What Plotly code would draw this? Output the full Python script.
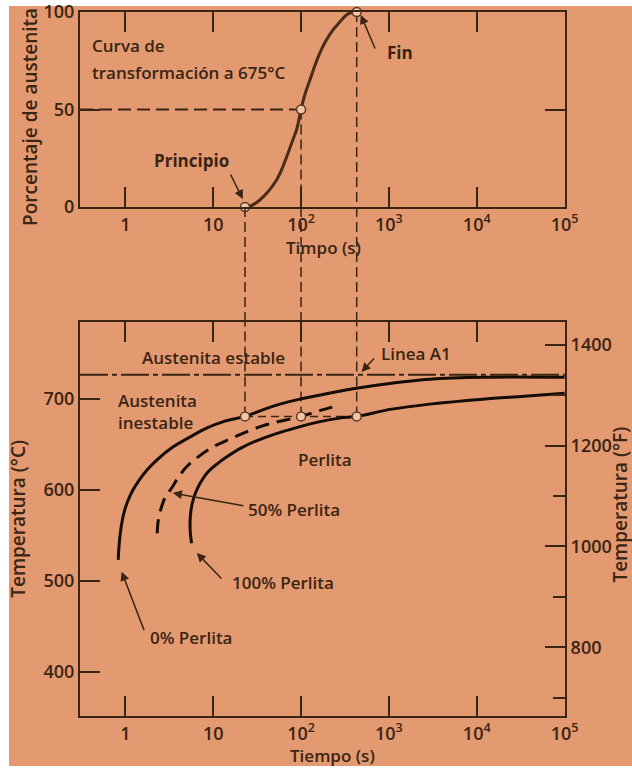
import numpy as np
import plotly.graph_objects as go

# ---------------- data ----------------
# Top chart: transformation curve at 675 °C (time s, % austenite transformed)
curve_time = [23, 27.5, 33.9, 41.8, 52.6, 61.9, 71.1, 80.5, 88.7, 100, 110, 126, 143,
              163, 191, 231, 276, 328, 377, 430]
curve_pct = [0, 0.8, 3.6, 7.7, 13.8, 20.5, 27.7, 34.4, 39.5, 50, 57.4, 65.1, 72.3,
             78.8, 85.1, 90.8, 94.9, 98.5, 99.7, 100]
key_time = [23, 100, 430]          # Principio, 50 %, Fin
key_pct = [0, 50, 100]
iso_temp = 681                     # isotherm drawn in the TTT diagram

# Bottom chart: TTT curves (time s, temperature °C)
start_time = [0.828, 0.848, 0.884, 0.949, 1.054, 1.217, 1.462, 1.803, 2.34, 3.47, 5.42,
              8.39, 13.6, 23, 38.6, 60.3, 96.7, 196, 427, 1076, 2911, 11670, 100000]
start_temp = [522.9, 539.4, 555.9, 572.4, 586.7, 599.9, 612, 623, 634, 647.2, 658.2,
              668.1, 675.8, 681, 689, 695, 700, 706, 712.1, 717.6, 722, 724.2, 724.2]
half_time = [2.30, 2.37, 2.58, 2.85, 3.36, 3.96, 4.97, 6.68, 9.97, 15.4, 23.9, 35.7,
             52.5, 74.4, 100, 163, 275]
half_temp = [552.3, 566.9, 581.5, 592.2, 602.1, 613.1, 625.5, 636.2, 647.5, 656, 664,
             670.3, 674.7, 678, 681, 687.3, 693.4]
finish_time = [5.66, 5.46, 5.49, 5.78, 6.34, 7.22, 8.68, 11.0, 14.7, 20.6, 30.5, 50.2,
               84.9, 155, 275, 430, 1076, 2911, 11670, 35080, 100000]
finish_temp = [541.3, 555.9, 571.3, 585.6, 597.7, 608.7, 619.7, 628.5, 637.3, 646.1,
               653.8, 661.5, 668.1, 674.7, 679.1, 681, 689, 694.5, 700, 703.3, 706.6]
a1_temp = 727

x_tickvals = [1, 10, 100, 1000, 10000, 100000]
x_ticktext = ["1", "10", "10<sup>2</sup>", "10<sup>3</sup>", "10<sup>4</sup>", "10<sup>5</sup>"]
pct_ticks = [0, 50, 100]
c_ticks = [400, 500, 600, 700]
f_ticks = [800, 1000, 1200, 1400]
f_minor = [700, 900, 1100, 1300]

# ---------------- style ----------------
ORANGE = "#E39A70"
INK = "#3a2414"
LINE = "#160c06"
BROWN = "#4a2a18"
FONT = "Open Sans"
x_range = [-0.517, 5.005]
pct_range = [0, 100]
c_range = [351, 785]
f_range = [c * 9 / 5 + 32 for c in c_range]

# plot box: l=80, r=67, t=12, b=52 -> plot height 704
top_dom = [0.723, 1.0]
bot_dom = [0.0, 0.5597]
SMOOTH = 1.0

fig = go.Figure()

# ---- top chart ----
fig.add_trace(go.Scatter(x=[10 ** x_range[0], key_time[1]], y=[key_pct[1]] * 2,
                         mode="lines", line=dict(color=INK, width=2, dash="13px,6px"),
                         xaxis="x", yaxis="y"))
vx, vy = [], []
for t, p in zip(key_time, key_pct):
    vx += [t, t, None]
    vy += [p, 0, None]
fig.add_trace(go.Scatter(x=vx, y=vy, mode="lines",
                         line=dict(color=INK, width=1.5, dash="10px,5px"),
                         xaxis="x", yaxis="y"))
fig.add_trace(go.Scatter(x=curve_time, y=curve_pct, mode="lines", cliponaxis=False,
                         line=dict(color=BROWN, width=3, shape="spline", smoothing=SMOOTH),
                         xaxis="x", yaxis="y"))
fig.add_trace(go.Scatter(x=key_time, y=key_pct, mode="markers", cliponaxis=False,
                         marker=dict(size=9, color="#F2C4A3", line=dict(color="#5a3a25", width=1.5)),
                         xaxis="x", yaxis="y"))

# ---- gap connectors ----
gx, gy = [], []
for t in key_time:
    gx += [t, t, None]
    gy += [0, 1, None]
fig.add_trace(go.Scatter(x=gx, y=gy, mode="lines",
                         line=dict(color=INK, width=1.5, dash="10px,5px"),
                         xaxis="x3", yaxis="y4"))

# ---- bottom chart ----
bx, by = [], []
for t in key_time:
    bx += [t, t, None]
    by += [iso_temp, c_range[1], None]
fig.add_trace(go.Scatter(x=bx, y=by, mode="lines",
                         line=dict(color=INK, width=1.5, dash="10px,5px"),
                         xaxis="x2", yaxis="y2"))
fig.add_trace(go.Scatter(x=[key_time[0], key_time[2]], y=[iso_temp] * 2, mode="lines",
                         line=dict(color=INK, width=1.5, dash="8px,5px"),
                         xaxis="x2", yaxis="y2"))
fig.add_trace(go.Scatter(x=start_time, y=start_temp, mode="lines",
                         line=dict(color=LINE, width=3, shape="spline", smoothing=SMOOTH),
                         xaxis="x2", yaxis="y2"))
fig.add_trace(go.Scatter(x=half_time, y=half_temp, mode="lines",
                         line=dict(color=LINE, width=3, dash="14px,8px", shape="spline", smoothing=SMOOTH),
                         xaxis="x2", yaxis="y2"))
fig.add_trace(go.Scatter(x=finish_time, y=finish_temp, mode="lines",
                         line=dict(color=LINE, width=3, shape="spline", smoothing=SMOOTH),
                         xaxis="x2", yaxis="y2"))
fig.add_trace(go.Scatter(x=key_time, y=[iso_temp] * 3, mode="markers", cliponaxis=False,
                         marker=dict(size=9, color="#F2C4A3", line=dict(color="#5a3a25", width=1.5)),
                         xaxis="x2", yaxis="y2"))
# invisible trace to activate the °F axis
fig.add_trace(go.Scatter(x=[1], y=[f_ticks[0]], mode="markers", marker=dict(opacity=0),
                         xaxis="x2", yaxis="y3", hoverinfo="skip"))

# ---------------- axes ----------------
tick_font = dict(family=FONT, size=18, color=INK, weight=600)
common_x = dict(type="log", range=x_range, tickvals=x_tickvals, ticktext=x_ticktext,
                ticks="inside", ticklen=20, tickwidth=2, tickcolor=INK,
                showline=True, linewidth=2, linecolor=INK, mirror="ticks",
                showgrid=False, zeroline=False, tickfont=tick_font, automargin=False,
                ticklabeloverflow="allow")

fig.update_layout(
    xaxis=dict(**common_x, anchor="y", domain=[0, 1]),
    yaxis=dict(range=pct_range, domain=top_dom, anchor="x", tickvals=pct_ticks,
               ticks="inside", ticklen=20, tickwidth=2, tickcolor=INK,
               showline=True, linewidth=2, linecolor=INK, mirror="ticks",
               showgrid=False, zeroline=False, tickfont=tick_font, automargin=False,
               ticklabeloverflow="allow"),
    xaxis2=dict(**common_x, anchor="y2", domain=[0, 1]),
    yaxis2=dict(range=c_range, domain=bot_dom, anchor="x2", tickvals=c_ticks,
                ticks="inside", ticklen=20, tickwidth=2, tickcolor=INK,
                showline=True, linewidth=2, linecolor=INK, mirror=False,
                showgrid=False, zeroline=False, tickfont=tick_font, automargin=False,
                ticklabeloverflow="allow"),
    yaxis3=dict(range=f_range, overlaying="y2", side="right", anchor="x2",
                tickvals=f_ticks, ticks="inside", ticklen=20, tickwidth=2, tickcolor=INK,
                minor=dict(tickvals=f_minor, ticks="inside", ticklen=12, tickwidth=2, tickcolor=INK),
                showline=True, linewidth=2, linecolor=INK,
                showgrid=False, zeroline=False, tickfont=tick_font, automargin=False,
                ticklabeloverflow="allow"),
    xaxis3=dict(type="log", range=x_range, anchor="y4", domain=[0, 1], visible=False),
    yaxis4=dict(range=[0, 1], domain=[bot_dom[1], top_dom[0]], anchor="x3", visible=False),
)

# ---------------- annotations ----------------
afont = dict(family=FONT, size=17, color=INK, weight=600)
bfont = dict(family=FONT, size=17, color=INK, weight=700)
xtfont = dict(family=FONT, size=17, color=INK, weight=600)
ytfont = dict(family=FONT, size=19, color=INK, weight=600)
texts = [
    # (text, xref, yref, x, y, xanchor, font, angle)
    ("Curva de", "x domain", "y domain", 0.0206, 0.826, "left", afont, 0),
    ("transformación a 675°C", "x domain", "y domain", 0.0206, 0.69, "left", afont, 0),
    ("Principio", "x domain", "y domain", 0.229, 0.236, "center", bfont, 0),
    ("Fin", "x domain", "y domain", 0.659, 0.79, "center", bfont, 0),
    ("Austenita estable", "x2 domain", "y2 domain", 0.276, 0.909, "center", afont, 0),
    ("Linea A1", "x2 domain", "y2 domain", 0.6935, 0.9205, "center", afont, 0),
    ("Austenita<br>inestable", "x2 domain", "y2 domain", 0.074, 0.774, "left", afont, 0),
    ("Perlita", "x2 domain", "y2 domain", 0.5046, 0.6515, "center", afont, 0),
    ("50% Perlita", "x2 domain", "y2 domain", 0.342, 0.523, "left", afont, 0),
    ("100% Perlita", "x2 domain", "y2 domain", 0.309, 0.338, "left", afont, 0),
    ("0% Perlita", "x2 domain", "y2 domain", 0.140, 0.198, "left", afont, 0),
    # axis titles
    ("Timpo (s)", "paper", "paper", 0.503, 0.665, "center", xtfont, 0),
    ("Tiempo (s)", "paper", "paper", 0.5196, -0.0568, "center", xtfont, 0),
    ("Porcentaje de austenita", "paper", "paper", -0.103, 0.851, "center", ytfont, -90),
    ("Temperatura (°C)", "paper", "paper", -0.128, 0.28, "center", ytfont, -90),
    ("Temperatura (°F)", "paper", "paper", 1.113, 0.30, "center", ytfont, -90),
]
for txt, xr, yr, x, y, xa, f, ang in texts:
    fig.add_annotation(text=txt, xref=xr, yref=yr, x=x, y=y, xanchor=xa, yanchor="middle",
                       showarrow=False, font=f, align="left", textangle=ang)

arrows = [
    # (tip time, tip value, xref, yref, ax, ay)
    (21.7, 4.1, "x", "y", -13, -26),
    (478, 98.5, "x", "y", 15, 35),
    (487, 730, "x2", "y2", 14, -15),
    (3.47, 596.6, "x2", "y2", 72, 13),
    (6.5, 530.6, "x2", "y2", 26, 27),
    (0.905, 510, "x2", "y2", 23, 60),
]
for t, v, xr, yr, ax, ay in arrows:
    fig.add_annotation(text="", xref=xr, yref=yr, x=np.log10(t), y=v, ax=ax, ay=ay,
                       showarrow=True, arrowhead=2, arrowsize=1.2, arrowwidth=1.5,
                       arrowcolor=INK)

# A1 line
fig.add_shape(type="line", xref="x2 domain", yref="y2", x0=0, x1=1, y0=a1_temp, y1=a1_temp,
              line=dict(color=INK, width=2, dash="28px,4px,5px,4px"))
# orange sheet
fig.add_shape(type="rect", xref="paper", yref="paper", x0=-0.1464, x1=1.14, y0=-0.071, y1=1.0085,
              fillcolor=ORANGE, line=dict(width=0), layer="below")

fig.update_layout(
    width=632, height=768,
    margin=dict(l=80, r=67, t=12, b=52, autoexpand=False),
    paper_bgcolor="white", plot_bgcolor="rgba(0,0,0,0)",
    showlegend=False,
    font=dict(family=FONT, color=INK),
)

fig.write_html("out.html")
